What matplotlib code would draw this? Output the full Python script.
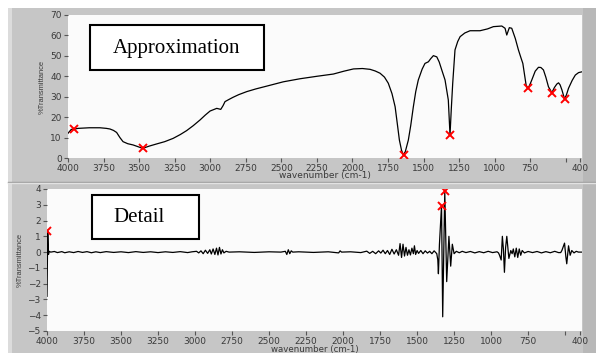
import matplotlib
matplotlib.use("Agg")
import matplotlib.pyplot as plt
from matplotlib.patches import Rectangle
from matplotlib.lines import Line2D

W, H = 596, 353

# ---- Approximation spectrum (%Transmittance vs wavenumber) ----
approx_wn = [4000, 3977, 3958, 3930, 3850, 3775, 3730, 3705, 3680, 3658, 3635,
             3613, 3580, 3543, 3510, 3475, 3430, 3376, 3320, 3261, 3210, 3166,
             3120, 3072, 3035, 3001, 2954, 2926, 2910, 2896, 2870, 2840, 2800,
             2743, 2680, 2602, 2486, 2368, 2250, 2134, 2060, 1993, 1930, 1876,
             1840, 1806, 1775, 1748, 1722, 1700, 1685, 1670, 1655, 1642, 1628,
             1607, 1590, 1572, 1555, 1537, 1510, 1490, 1466, 1450, 1431, 1407,
             1390, 1372, 1349, 1326, 1314, 1305, 1295, 1279, 1260, 1243, 1210,
             1173, 1103, 1050, 1009, 950, 927, 915, 897, 880, 855, 833, 815,
             802, 779, 767, 755, 739, 715, 692, 675, 657, 640, 622, 598, 580,
             563, 551, 540, 527, 509, 495, 481, 455, 433, 410, 386]
approx_t = [12.1, 14.0, 14.1, 14.5, 14.8, 14.8, 14.5, 14.2, 13.5, 12.5, 10.0,
            8.0, 7.0, 6.4, 5.6, 4.7, 5.8, 6.9, 8.0, 9.6, 11.5, 13.4,
            15.8, 18.6, 21.0, 23.0, 24.3, 23.8, 25.6, 27.6, 28.6, 29.7, 31.0,
            32.5, 33.8, 35.2, 37.3, 38.8, 40.0, 41.1, 42.5, 43.6, 43.8, 43.4,
            42.6, 41.5, 39.6, 36.6, 31.5, 25.1, 17.0, 8.8, 3.8, 1.5, 3.2,
            8.8, 16.0, 25.0, 32.5, 38.2, 43.5, 46.3, 47.1, 48.6, 50.1, 49.5,
            47.0, 43.1, 38.2, 28.4, 11.3, 24.0, 36.6, 52.9, 57.0, 59.4, 61.2,
            62.3, 62.3, 63.2, 64.3, 64.6, 63.5, 60.2, 63.8, 63.5, 58.5, 52.9, 49.0,
            46.3, 35.7, 34.1, 35.5, 38.2, 42.5, 44.4, 44.3, 43.1, 39.5, 34.9, 32.0, 34.5,
            36.2, 36.8, 35.8, 33.3, 28.9, 31.0, 34.1, 38.0, 40.6, 41.8, 42.2]
approx_peak_wn = [3960, 3475, 1640, 1314, 767, 598, 509]
approx_peak_t = [14.1, 4.8, 1.3, 11.5, 34.1, 32.0, 29.0]

# ---- Detail signal, (wavenumber, value) pairs ----
detail_points = [
    (4000, -2.8), (3995, 1.3), (3990, -0.15), (3985, 0.05), (3975, 0.0),
    (3950, 0.04), (3930, -0.03), (3900, 0.03), (3880, -0.04), (3850, 0.02),
    (3820, -0.03), (3790, 0.04), (3760, -0.02), (3730, 0.03), (3700, -0.04),
    (3670, 0.02), (3640, -0.03), (3600, 0.03), (3550, -0.02), (3500, 0.02),
    (3450, -0.03), (3400, 0.03), (3350, -0.02), (3300, 0.02), (3250, -0.03),
    (3200, 0.02), (3150, -0.02), (3100, 0.03), (3050, -0.03), (3020, 0.02),
    (2990, 0.05), (2975, -0.05), (2960, 0.08), (2945, -0.1), (2930, 0.12),
    (2915, -0.08), (2900, 0.15), (2890, -0.12), (2878, 0.2), (2866, -0.15),
    (2855, 0.25), (2845, -0.18), (2835, 0.3), (2825, -0.12), (2815, 0.15),
    (2805, -0.05), (2790, 0.05), (2770, 0.0), (2700, 0.02), (2600, -0.02),
    (2500, 0.02), (2420, 0.0), (2390, 0.05), (2380, -0.15), (2370, 0.15),
    (2360, -0.1), (2350, 0.08), (2340, 0.0), (2300, 0.02), (2200, -0.02),
    (2100, 0.02), (2030, -0.05), (2020, 0.08), (2010, 0.0), (1950, 0.02),
    (1880, -0.03), (1840, 0.06), (1820, -0.08), (1800, 0.05), (1780, -0.1),
    (1760, 0.08), (1745, -0.06), (1730, 0.12), (1715, -0.1), (1700, 0.1),
    (1685, -0.15), (1670, 0.18), (1655, -0.12), (1640, 0.15), (1625, -0.2),
    (1615, 0.54), (1605, -0.34), (1595, 0.5), (1585, -0.25), (1575, 0.3),
    (1565, -0.2), (1555, 0.15), (1545, -0.18), (1535, 0.25), (1525, -0.1),
    (1518, 0.4), (1510, -0.15), (1500, 0.1), (1490, -0.08), (1475, 0.1),
    (1460, -0.1), (1445, 0.08), (1430, -0.06), (1415, 0.05), (1400, -0.1),
    (1385, 0.08), (1372, -0.05), (1367, -0.1), (1360, -0.5), (1356, -1.37),
    (1349, 0.5), (1335, 2.95), (1327, -4.1), (1313, 3.85), (1300, -1.87),
    (1285, 1.0), (1273, -0.89), (1262, 0.5), (1250, -0.1), (1235, 0.05),
    (1215, -0.04), (1195, 0.05), (1170, -0.03), (1140, 0.04), (1110, -0.05),
    (1080, 0.03), (1050, -0.04), (1020, 0.05), (990, -0.03), (960, 0.02),
    (950, -0.05), (943, -0.2), (932, -0.5), (924, 1.0), (917, 0.2),
    (910, -1.28), (902, 0.3), (894, 1.0), (880, -0.4), (867, 0.1),
    (858, -0.1), (850, 0.2), (840, -0.3), (830, 0.25), (820, -0.34),
    (810, 0.2), (800, -0.2), (790, 0.1), (775, -0.05), (750, 0.04),
    (720, -0.03), (690, 0.04), (660, -0.05), (630, 0.03), (600, -0.04),
    (570, 0.05), (545, -0.03), (530, -0.03), (522, 0.1), (511, 0.4),
    (504, 0.57), (495, -0.3), (489, -0.74), (477, 0.4), (466, -0.2),
    (455, 0.1), (440, -0.05), (425, 0.05), (410, 0.0), (400, 0.0), (386, 0.0),
]
detail_wn = [p[0] for p in detail_points]
detail_v = [p[1] for p in detail_points]
detail_peak_wn = [4000, 1335, 1313]
detail_peak_v = [1.35, 2.95, 3.85]

x_ticks = [4000, 3750, 3500, 3250, 3000, 2750, 2500, 2250, 2000, 1750,
           1500, 1250, 1000, 750, 500, 400]
x_tick_labels = ["4000", "3750", "3500", "3250", "3000", "2750", "2500", "2250",
                 "2000", "1750", "1500", "1250", "1000", "750", "", "400"]
approx_y_ticks = [0, 10, 20, 30, 40, 50, 60, 70]
detail_y_ticks = [-5, -4, -3, -2, -1, 0, 1, 2, 3, 4]

PANEL_GRAY = "#c6c6c6"
PLOT_BG = "#fbfbfb"
TICK_TXT = "#3a3a3a"


def fx(px):
    return px / W


def fy(py):
    return 1 - py / H


fig = plt.figure(figsize=(W / 100, H / 100), dpi=100)
fig.patch.set_facecolor("white")

# window frame (kept behind the axes)
fig.patches.append(Rectangle((fx(8), fy(353)), fx(588), 345 / H,
                             transform=fig.transFigure, facecolor=PANEL_GRAY,
                             edgecolor="none", zorder=-10))
fig.patches.append(Rectangle((fx(8), fy(353)), fx(4), 345 / H,
                             transform=fig.transFigure, facecolor="#dcdcdc",
                             edgecolor="none", zorder=-9))
fig.patches.append(Rectangle((fx(583), fy(353)), fx(13), 345 / H,
                             transform=fig.transFigure, facecolor="#b8b8b8",
                             edgecolor="none", zorder=-9))
fig.lines.append(Line2D([fx(8), fx(596)], [fy(181.5), fy(181.5)],
                        transform=fig.transFigure, color="#9a9a9a", lw=1.0,
                        zorder=-8))
fig.lines.append(Line2D([fx(8), fx(596)], [fy(183), fy(183)],
                        transform=fig.transFigure, color="#e2e2e2", lw=1.0,
                        zorder=-8))


def style_axis(ax, yticks, xlabel_size, xlabel_pad):
    ax.set_facecolor(PLOT_BG)
    for s in ax.spines.values():
        s.set_visible(False)
    ax.set_xticks(x_ticks)
    ax.set_xticklabels(x_tick_labels)
    ax.set_yticks(yticks)
    ax.tick_params(axis="both", direction="out", length=3, width=0.8,
                   color="#555555", labelsize=6.5, labelcolor=TICK_TXT, pad=1.5)
    ax.tick_params(axis="x", pad=1)
    ax.set_xlabel("wavenumber (cm-1)", fontsize=xlabel_size, color=TICK_TXT,
                  labelpad=xlabel_pad)
    ax.set_ylabel("%Transmittance", fontsize=5.4, color=TICK_TXT,
                  family="Liberation Sans", labelpad=3)


# ---- top panel ----
ax1 = fig.add_axes([fx(68), fy(158), fx(582) - fx(68), (158 - 15) / H])
ax1.plot(approx_wn, approx_t, color="black", lw=0.9)
ax1.plot(approx_peak_wn, approx_peak_t, linestyle="none", marker="x",
         color="red", ms=5.5, mew=1.4)
ax1.set_xlim(4000, 386)
ax1.set_ylim(0, 70)
style_axis(ax1, approx_y_ticks, 6.5, -1)

# ---- bottom panel ----
ax2 = fig.add_axes([fx(47), fy(331), fx(582) - fx(47), (331 - 189) / H])
ax2.plot(detail_wn, detail_v, color="black", lw=0.9)
ax2.plot(detail_peak_wn, detail_peak_v, linestyle="none", marker="x",
         color="red", ms=5.5, mew=1.4)
ax2.set_xlim(4000, 386)
ax2.set_ylim(-5, 4)
style_axis(ax2, detail_y_ticks, 6.2, -0.5)

# ---- annotation boxes ----
for (x0, y0, x1, y1), label, (tx, ty) in [
        ((90, 25, 264, 70), "Approximation", (177, 49)),
        ((92, 195, 199, 239), "Detail", (139, 218)),
]:
    fig.patches.append(Rectangle((fx(x0), fy(y1)), fx(x1 - x0), (y1 - y0) / H,
                                 transform=fig.transFigure, facecolor="white",
                                 edgecolor="black", lw=1.5, zorder=5))
    fig.text(fx(tx), fy(ty), label, family="Liberation Serif", fontsize=15,
             ha="center", va="center", color="black", zorder=6)

fig.savefig("out.png", dpi=100)
